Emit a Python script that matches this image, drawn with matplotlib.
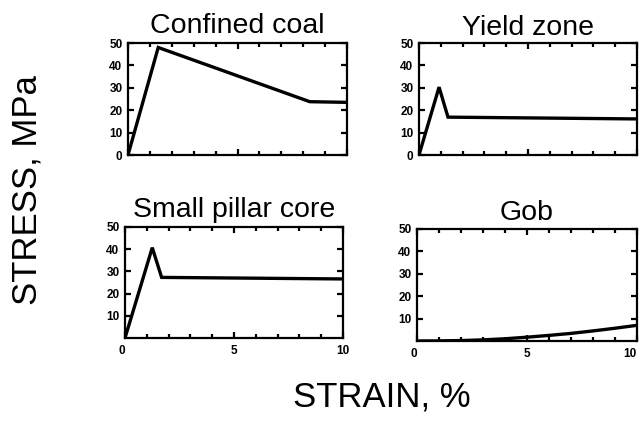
import matplotlib
matplotlib.use("Agg")
import matplotlib.pyplot as plt
from matplotlib.ticker import MultipleLocator, FixedLocator

plt.rcParams['font.family'] = ['Liberation Sans', 'DejaVu Sans']

# Data (strain %, stress MPa)
titles = ["Confined coal", "Yield zone", "Small pillar core", "Gob"]
coal_x = [0, 1.38, 8.3, 10]
coal_y = [0, 48, 23.8, 23.5]
yield_x = [0, 0.92, 1.33, 10]
yield_y = [0, 30.3, 16.9, 16.1]
core_x = [0, 1.25, 1.68, 10]
core_y = [0, 40.7, 27.3, 26.6]
gob_x = [0, 1, 2, 3, 4, 5, 6, 7, 8, 9, 10]
gob_y = [0, 0.05, 0.2, 0.5, 1.0, 1.7, 2.5, 3.4, 4.5, 5.7, 7.0]
series = [(coal_x, coal_y), (yield_x, yield_y), (core_x, core_y), (gob_x, gob_y)]

fig = plt.figure(figsize=(6.4, 4.24), dpi=100)
rects = [
    [128/640, 1-155/424, 219/640, 112/424],
    [419/640, 1-155/424, 218/640, 112/424],
    [125/640, 1-338/424, 218/640, 111/424],
    [417/640, 1-341/424, 220/640, 112/424],
]
pads = [7, 6, 7, 6.5]
for i, (rect, (xs, ys), title) in enumerate(zip(rects, series, titles)):
    ax = fig.add_axes(rect)
    ax.plot(xs, ys, color='black', lw=2.4, solid_joinstyle='miter')
    ax.set_xlim(0, 10)
    ax.set_ylim(0, 50)
    for s in ax.spines.values():
        s.set_linewidth(1.6)
    ax.set_title(title, fontsize=20.5, pad=pads[i])
    ax.xaxis.set_major_locator(FixedLocator([0, 5, 10]))
    ax.xaxis.set_minor_locator(MultipleLocator(1))
    ax.yaxis.set_major_locator(MultipleLocator(10))
    ax.tick_params(which='both', direction='in', top=True, right=True, width=1.6)
    ax.tick_params(which='major', length=4.5)
    ax.tick_params(which='minor', length=3)
    ax.tick_params(axis='y', labelsize=8.5, pad=4)
    ax.tick_params(axis='x', labelsize=8.5, pad=5)
    for lab in ax.get_yticklabels() + ax.get_xticklabels():
        lab.set_fontweight('bold')
    if i < 2:
        ax.set_xticklabels([])
    else:
        ax.set_yticks([10, 20, 30, 40, 50])
        for lab in ax.get_yticklabels():
            lab.set_fontweight('bold')
        ax.set_xticklabels(['0', '5', '10'], fontweight='bold')
        ax.get_xticklabels()[0].set_horizontalalignment('right')
        if i == 3:
            ax.get_xticklabels()[2].set_horizontalalignment('right')

fig.text(27/640, 1-190/424, "STRESS, MPa", rotation=90, fontsize=25,
         ha='center', va='center')
fig.text(382/640, 1-397/424, "STRAIN, %", fontsize=25, ha='center', va='center')

fig.savefig("out.png", dpi=100)
